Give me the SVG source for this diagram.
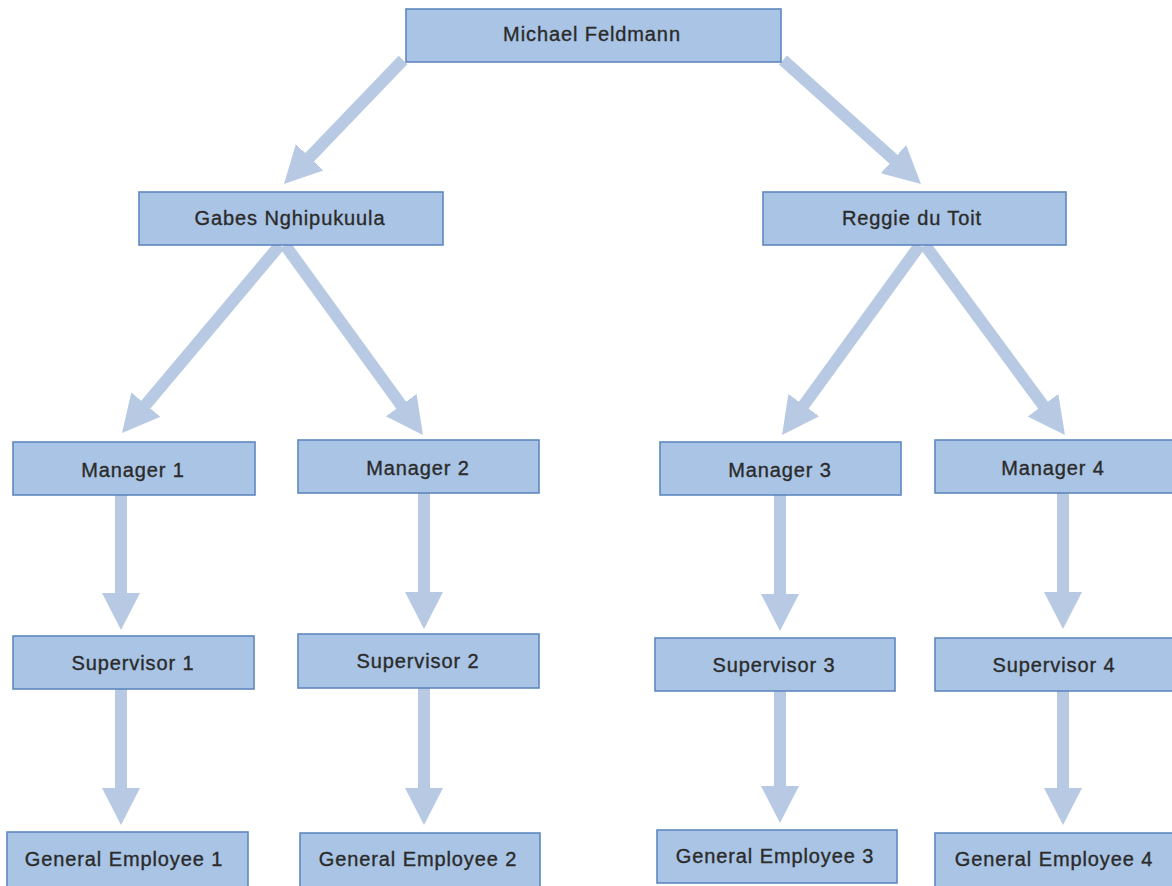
<svg xmlns="http://www.w3.org/2000/svg" width="1172" height="886" viewBox="0 0 1172 886">
<style>
.box{fill:#a9c4e4;stroke:#5e88c0;stroke-width:1.6}
.lbl{font-family:"Liberation Sans",Arial,sans-serif;font-size:20px;letter-spacing:0.9px;fill:#2b2b2b;stroke:#2b2b2b;stroke-width:0.35;text-anchor:middle}
.con{stroke:#b7c9e3;stroke-width:12;fill:none}
</style>
<defs>
<marker id="ah" markerUnits="userSpaceOnUse" markerWidth="42" markerHeight="42" viewBox="0 -21 42 42" refX="1" refY="0" orient="auto">
<path d="M0,-19 L37,0 L0,19 Z" fill="#b7c9e3"/>
</marker>
</defs>
<rect width="1172" height="886" fill="#ffffff"/>
<g id="connectors">
<line class="con" x1="403" y1="60" x2="308.9" y2="158" marker-end="url(#ah)"/>
<line class="con" x1="783" y1="60" x2="894.2" y2="159.9" marker-end="url(#ah)"/>
<line class="con" x1="280" y1="245" x2="145.2" y2="405.4" marker-end="url(#ah)"/>
<line class="con" x1="285" y1="245" x2="401.8" y2="405.9" marker-end="url(#ah)"/>
<line class="con" x1="920" y1="245" x2="803.2" y2="405.9" marker-end="url(#ah)"/>
<line class="con" x1="925" y1="245" x2="1043.6" y2="406" marker-end="url(#ah)"/>
<line class="con" x1="121" y1="495" x2="121" y2="594" marker-end="url(#ah)"/>
<line class="con" x1="424" y1="493" x2="424" y2="593" marker-end="url(#ah)"/>
<line class="con" x1="780" y1="495" x2="780" y2="595" marker-end="url(#ah)"/>
<line class="con" x1="1063" y1="493" x2="1063" y2="593" marker-end="url(#ah)"/>
<line class="con" x1="121" y1="689" x2="121" y2="789" marker-end="url(#ah)"/>
<line class="con" x1="424" y1="688" x2="424" y2="789" marker-end="url(#ah)"/>
<line class="con" x1="780" y1="691" x2="780" y2="787" marker-end="url(#ah)"/>
<line class="con" x1="1063" y1="691" x2="1063" y2="789" marker-end="url(#ah)"/>
</g>
<g id="michael"><rect class="box" x="406" y="9" width="375" height="53"/><text class="lbl" x="592" y="41">Michael Feldmann</text></g>
<g id="gabes"><rect class="box" x="139" y="192" width="304" height="53"/><text class="lbl" x="290" y="225">Gabes Nghipukuula</text></g>
<g id="reggie"><rect class="box" x="763" y="192" width="303" height="53"/><text class="lbl" x="912" y="225">Reggie du Toit</text></g>
<g id="manager1"><rect class="box" x="13" y="442" width="242" height="53"/><text class="lbl" x="133" y="477">Manager 1</text></g>
<g id="manager2"><rect class="box" x="298" y="440" width="241" height="53"/><text class="lbl" x="418" y="475">Manager 2</text></g>
<g id="manager3"><rect class="box" x="660" y="442" width="241" height="53"/><text class="lbl" x="780" y="477">Manager 3</text></g>
<g id="manager4"><rect class="box" x="935" y="440" width="240" height="53"/><text class="lbl" x="1053" y="475">Manager 4</text></g>
<g id="supervisor1"><rect class="box" x="13" y="636" width="241" height="53"/><text class="lbl" x="133" y="670">Supervisor 1</text></g>
<g id="supervisor2"><rect class="box" x="298" y="634" width="241" height="54"/><text class="lbl" x="418" y="668">Supervisor 2</text></g>
<g id="supervisor3"><rect class="box" x="655" y="638" width="240" height="53"/><text class="lbl" x="774" y="672">Supervisor 3</text></g>
<g id="supervisor4"><rect class="box" x="935" y="638" width="240" height="53"/><text class="lbl" x="1054" y="672">Supervisor 4</text></g>
<g id="employee1"><rect class="box" x="7" y="832" width="241" height="58"/><text class="lbl" x="124" y="866">General Employee 1</text></g>
<g id="employee2"><rect class="box" x="300" y="833" width="240" height="58"/><text class="lbl" x="418" y="866">General Employee 2</text></g>
<g id="employee3"><rect class="box" x="657" y="830" width="240" height="53"/><text class="lbl" x="775" y="863">General Employee 3</text></g>
<g id="employee4"><rect class="box" x="935" y="833" width="240" height="58"/><text class="lbl" x="1054" y="866">General Employee 4</text></g>
</svg>
